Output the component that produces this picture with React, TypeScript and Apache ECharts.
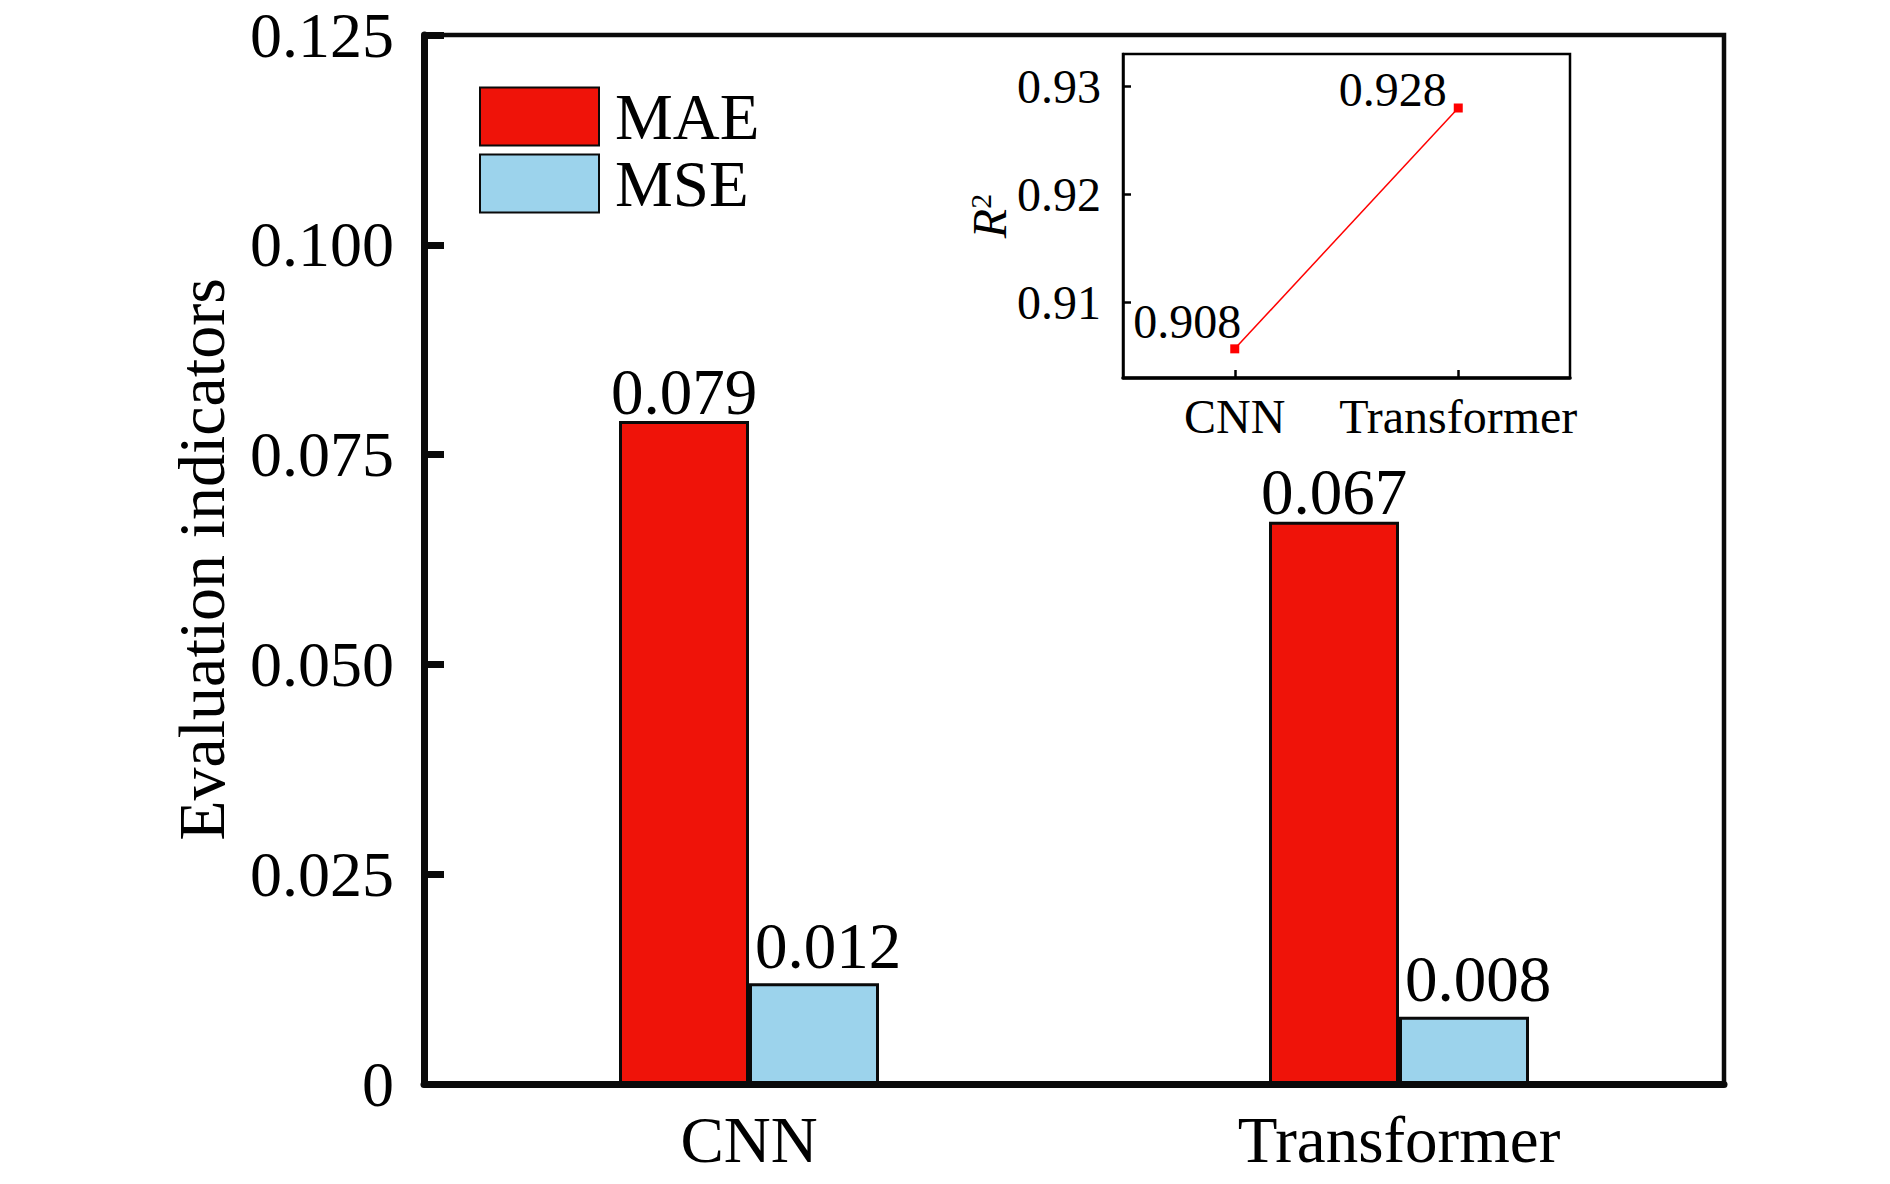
import React, { useEffect, useRef } from "react";
import * as echarts from "echarts";

const categories = ["CNN", "Transformer"];
const maeValues = [0.079, 0.067];
const mseValues = [0.012, 0.008];
const yTicks = [0, 0.025, 0.05, 0.075, 0.1, 0.125];

// inset: R2 per model (plotted point positions + printed labels)
const r2Values = [0.9057, 0.928];
const r2Labels = ["0.908", "0.928"];
const r2Ticks = [0.91, 0.92, 0.93];

const FONT = "'Liberation Serif', 'Times New Roman', serif";
const RED = "#EF1309";
const BLUE = "#9CD3EC";

const App: React.FC = () => {
  const chartRef = useRef<HTMLDivElement>(null);

  useEffect(() => {
    if (!chartRef.current) return;
    const chart = echarts.init(chartRef.current, undefined, { renderer: "svg" });

    const labelOffsets = [
      [16, -27],
      [-2, -19],
    ];

    const option = {
      animation: false,
      backgroundColor: "#fff",
      textStyle: { fontFamily: FONT, color: "#000" },
      legend: {
        data: ["MAE", "MSE"],
        orient: "vertical",
        left: 474,
        top: 79,
        icon: "rect",
        itemWidth: 119,
        itemHeight: 58,
        itemGap: 2,
        textStyle: {
          fontFamily: FONT,
          fontSize: 65,
          color: "#000",
          lineHeight: 58,
          padding: [0, 0, 0, 11],
        },
      },
      grid: [
        {
          left: 424,
          top: 35,
          width: 1300,
          height: 1049,
          show: true,
          borderColor: "#0a0a0a",
          borderWidth: 4.5,
          containLabel: false,
        },
        {
          left: 1123,
          top: 54,
          width: 447,
          height: 324,
          show: true,
          borderColor: "#000",
          borderWidth: 2.5,
          containLabel: false,
        },
      ],
      xAxis: [
        {
          type: "category",
          gridIndex: 0,
          data: categories,
          axisLine: { lineStyle: { color: "#0a0a0a", width: 7 } },
          axisTick: { show: false },
          axisLabel: { fontFamily: FONT, fontSize: 65, color: "#000", margin: 23 },
        },
        {
          type: "category",
          gridIndex: 1,
          data: categories,
          boundaryGap: true,
          axisLine: { lineStyle: { color: "#000", width: 3.5 } },
          axisTick: {
            show: true,
            inside: true,
            alignWithLabel: true,
            interval: 0,
            length: 8,
            lineStyle: { color: "#000", width: 2.5 },
          },
          axisLabel: {
            fontFamily: FONT,
            fontSize: 48,
            color: "#000",
            margin: 14,
            interval: 0,
            hideOverlap: false,
          },
        },
      ],
      yAxis: [
        {
          type: "value",
          gridIndex: 0,
          min: yTicks[0],
          max: yTicks[yTicks.length - 1],
          interval: 0.025,
          name: "Evaluation indicators",
          nameLocation: "middle",
          nameGap: 190,
          nameTextStyle: { fontFamily: FONT, fontSize: 66, color: "#000" },
          splitLine: { show: false },
          axisLine: { show: true, lineStyle: { color: "#0a0a0a", width: 7 } },
          axisTick: {
            show: true,
            inside: true,
            length: 20,
            lineStyle: { color: "#0a0a0a", width: 7 },
          },
          axisLabel: {
            fontFamily: FONT,
            fontSize: 64,
            color: "#000",
            margin: 30,
            formatter: (v: number) => (v === 0 ? "0" : v.toFixed(3)),
          },
        },
        {
          type: "value",
          gridIndex: 1,
          min: 0.903,
          max: 0.933,
          name: "{i|R}{s|2}",
          nameLocation: "middle",
          nameGap: 108,
          nameTextStyle: {
            fontFamily: FONT,
            fontSize: 48,
            color: "#000",
            rich: {
              i: { fontFamily: FONT, fontSize: 48, fontStyle: "italic", color: "#000", lineHeight: 48 },
              s: { fontFamily: FONT, fontSize: 30, color: "#000", lineHeight: 48, verticalAlign: "top", padding: [0, 0, 18, 0] },
            },
          },
          splitLine: { show: false },
          axisLine: { show: true, lineStyle: { color: "#000", width: 2.5 } },
          axisTick: {
            show: true,
            inside: true,
            length: 8,
            customValues: r2Ticks,
            lineStyle: { color: "#000", width: 2.5 },
          },
          axisLabel: {
            fontFamily: FONT,
            fontSize: 48,
            color: "#000",
            margin: 22,
            customValues: r2Ticks,
            formatter: (v: number) => v.toFixed(2),
          },
        },
      ],
      series: [
        {
          name: "MAE",
          type: "bar",
          xAxisIndex: 0,
          yAxisIndex: 0,
          data: maeValues,
          barWidth: 130,
          barGap: "0%",
          itemStyle: { color: RED, borderColor: "#0a0a0a", borderWidth: 3 },
          label: {
            show: true,
            position: "top",
            distance: -3,
            fontFamily: FONT,
            fontSize: 65,
            color: "#000",
            formatter: (p: any) => p.value.toFixed(3),
          },
        },
        {
          name: "MSE",
          type: "bar",
          xAxisIndex: 0,
          yAxisIndex: 0,
          data: mseValues,
          barWidth: 130,
          barGap: "0%",
          itemStyle: { color: BLUE, borderColor: "#0a0a0a", borderWidth: 3 },
          label: {
            show: true,
            position: "top",
            distance: 5,
            offset: [14, 0],
            fontFamily: FONT,
            fontSize: 65,
            color: "#000",
            formatter: (p: any) => p.value.toFixed(3),
          },
        },
        {
          name: "R2",
          type: "line",
          xAxisIndex: 1,
          yAxisIndex: 1,
          symbol: "rect",
          symbolSize: 9,
          lineStyle: { color: "#FF0000", width: 1.5 },
          itemStyle: { color: "#FF0000" },
          data: r2Values.map((v, i) => ({
            value: v,
            label: {
              show: true,
              position: "left",
              distance: 5,
              offset: labelOffsets[i],
              fontFamily: FONT,
              fontSize: 48,
              color: "#000",
              formatter: () => r2Labels[i],
            },
          })),
        },
      ],
    };

    chart.setOption(option);
    return () => chart.dispose();
  }, []);

  return (
    <div
      ref={chartRef}
      style={{
        position: "absolute",
        left: 0,
        top: 0,
        width: "1890px",
        height: "1184px",
        background: "#fff",
      }}
    ></div>
  );
};

export default App;
